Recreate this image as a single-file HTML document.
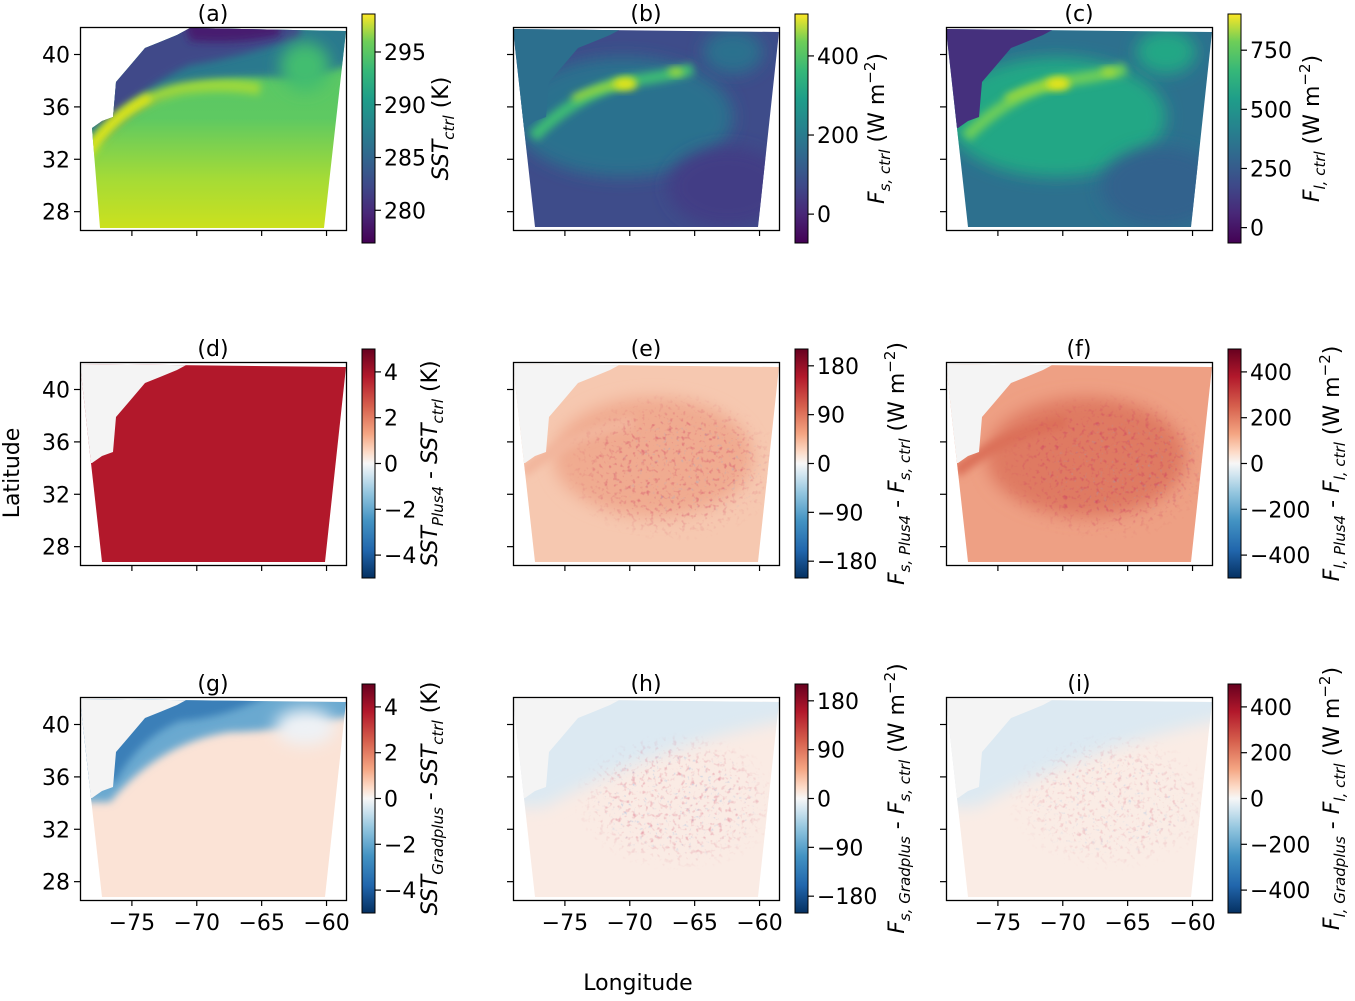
<!DOCTYPE html>
<html><head><meta charset="utf-8">
<style>
body{margin:0;background:#fff;font-family:"Liberation Sans","DejaVu Sans",sans-serif;}
svg text{font-family:"DejaVu Sans","Liberation Sans",sans-serif;fill:#000;}
</style></head>
<body>
<svg id="fig" width="1355" height="996" xmlns="http://www.w3.org/2000/svg">
<defs>
<linearGradient id="viridis" x1="0" y1="1" x2="0" y2="0">
<stop offset="0" stop-color="#440154"/><stop offset="0.13" stop-color="#482878"/><stop offset="0.25" stop-color="#3e4989"/>
<stop offset="0.38" stop-color="#31688e"/><stop offset="0.5" stop-color="#26828e"/><stop offset="0.63" stop-color="#1f9e89"/>
<stop offset="0.75" stop-color="#35b779"/><stop offset="0.88" stop-color="#6ece58"/><stop offset="1" stop-color="#fde725"/>
</linearGradient>
<linearGradient id="rdbu" x1="0" y1="1" x2="0" y2="0">
<stop offset="0" stop-color="#053061"/><stop offset="0.12" stop-color="#2166ac"/><stop offset="0.25" stop-color="#4393c3"/>
<stop offset="0.37" stop-color="#92c5de"/><stop offset="0.45" stop-color="#d1e5f0"/><stop offset="0.5" stop-color="#f7f7f7"/>
<stop offset="0.55" stop-color="#fddbc7"/><stop offset="0.63" stop-color="#f4a582"/><stop offset="0.75" stop-color="#d6604d"/>
<stop offset="0.88" stop-color="#b2182b"/><stop offset="1" stop-color="#67001f"/>
</linearGradient>
<linearGradient id="sstSouth" x1="0" y1="0" x2="0" y2="1">
<stop offset="0" stop-color="#56c566"/><stop offset="0.45" stop-color="#5ec962"/><stop offset="0.75" stop-color="#a5db36"/><stop offset="1" stop-color="#cde11d"/>
</linearGradient>
<radialGradient id="fade" cx="0.5" cy="0.5" r="0.5">
<stop offset="0" stop-color="#fff"/><stop offset="0.6" stop-color="#fff"/><stop offset="1" stop-color="#000"/>
</radialGradient>
<filter id="blur8" x="-50%" y="-50%" width="200%" height="200%"><feGaussianBlur stdDeviation="8"/></filter>
<filter id="blur4" x="-50%" y="-50%" width="200%" height="200%"><feGaussianBlur stdDeviation="4"/></filter>
<filter id="speck" x="0" y="0" width="1" height="1">
<feTurbulence type="fractalNoise" baseFrequency="0.22" numOctaves="2" seed="3"/>
<feColorMatrix type="matrix" values="0 0 0 0 0.62  0 0 0 0 0.05  0 0 0 0 0.12  0 0 0 2.4 -1.35"/>
</filter>
<filter id="speckb" x="0" y="0" width="1" height="1">
<feTurbulence type="fractalNoise" baseFrequency="0.25" numOctaves="2" seed="7"/>
<feColorMatrix type="matrix" values="0 0 0 0 0.2  0 0 0 0 0.4  0 0 0 0 0.75  0 0 0 2.6 -1.7"/>
</filter>
</defs>
</svg>
<script>
const NS='http://www.w3.org/2000/svg';
const svg=document.getElementById('fig');
const defs=svg.querySelector('defs');
function mk(tag,attrs,parent){const e=document.createElementNS(NS,tag);for(const k in attrs)e.setAttribute(k,attrs[k]);(parent||svg).appendChild(e);return e;}

// data arrays
const panelLetters=['(a)','(b)','(c)','(d)','(e)','(f)','(g)','(h)','(i)'];
const lonTicks=[-75,-70,-65,-60];
const latTicks=[40,36,32,28];
const cbarMin=[276.9,-73,-65,-5,-211,-500,-5,-211,-500];
const cbarMax=[298.6,506,903,5,211,500,5,211,500];
const cbarTicks=[[280,285,290,295],[0,200,400],[0,250,500,750],[-4,-2,0,2,4],[-180,-90,0,90,180],[-400,-200,0,200,400],[-4,-2,0,2,4],[-180,-90,0,90,180],[-400,-200,0,200,400]];
const cbarLabels=[
 [['SST','i'],['ctrl','s'],[' (K)','n']],
 [['F','i'],['s, ctrl','s'],[' (W m','n'],['−2','p'],[')','n']],
 [['F','i'],['l, ctrl','s'],[' (W m','n'],['−2','p'],[')','n']],
 [['SST','i'],['Plus4','s'],[' - ','n'],['SST','i'],['ctrl','s'],[' (K)','n']],
 [['F','i'],['s, Plus4','s'],[' - ','n'],['F','i'],['s, ctrl','s'],[' (W m','n'],['−2','p'],[')','n']],
 [['F','i'],['l, Plus4','s'],[' - ','n'],['F','i'],['l, ctrl','s'],[' (W m','n'],['−2','p'],[')','n']],
 [['SST','i'],['Gradplus','s'],[' - ','n'],['SST','i'],['ctrl','s'],[' (K)','n']],
 [['F','i'],['s, Gradplus','s'],[' - ','n'],['F','i'],['s, ctrl','s'],[' (W m','n'],['−2','p'],[')','n']],
 [['F','i'],['l, Gradplus','s'],[' - ','n'],['F','i'],['l, ctrl','s'],[' (W m','n'],['−2','p'],[')','n']]];

const colX=[80,513,946], rowY=[27,362,697], W=266, H=203;
const lonMin=-79.0, lonMax=-58.5, latTop=42.1, latBot=26.6;
const lonX=(lon,x0)=>x0+ (lon-lonMin)/(lonMax-lonMin)*W;
const latY=(lat,y0)=>y0+ (latTop-lat)/(latTop-latBot)*H;

const coast=[[110,1],[97,8],[80,15],[65,21],[48,41],[36,55],[33,90],[22,94],[12,101]];
function domainPts(full,x0,y0){
  if(full) return [[0,2],[266,5],[245,200],[22,200]].map(p=>[x0+p[0],y0+p[1]]);
  const pts=[[110,1],[266,4],[244,201],[20,201],[12,101]];
  return pts.concat(coast.slice().reverse().slice(1)).map(p=>[x0+p[0],y0+p[1]]);
}
const ps=a=>a.map(p=>p.join(',')).join(' ');

function speckle(parent,idx,x,y,w,h,filt,op){
  const m=mk('mask',{id:'m'+idx+filt,maskUnits:'userSpaceOnUse',x:x,y:y,width:w,height:h},defs);
  mk('rect',{x:x,y:y,width:w,height:h,fill:'url(#fade)'},m);
  mk('rect',{x:x,y:y,width:w,height:h,filter:'url(#'+filt+')',opacity:op,mask:'url(#m'+idx+filt+')'},parent);
}

for(let i=0;i<9;i++){
  const r=Math.floor(i/3), c=i%3, x0=colX[c], y0=rowY[r];
  const g=mk('g',{});
  
  
  const cid='clip'+i;
  const cp=mk('clipPath',{id:cid},g);
  mk('polygon',{points:ps(i===0?domainPts(false,x0,y0):domainPts(true,x0,y0))},cp);
  const f=mk('g',{'clip-path':'url(#'+cid+')'},g);
  
  
  const land=ps([[x0-5,y0-5],[x0+110,y0-5],...coast.map(p=>[x0+p[0],y0+p[1]]),[x0-5,y0+101]]);
  if(i===0){
    mk('rect',{x:x0,y:y0,width:W,height:H,fill:'url(#sstSouth)'},f);
    mk('path',{d:`M${x0-10} ${y0-20} L${x0+290} ${y0-20} L${x0+290} ${y0+30} Q${x0+230} ${y0+55} ${x0+190} ${y0+50} Q${x0+140} ${y0+50} ${x0+90} ${y0+65} Q${x0+50} ${y0+85} ${x0+20} ${y0+115} L${x0-10} ${y0+115}Z`,fill:'#2a798e',filter:'url(#blur4)'},f);
    mk('path',{d:`M${x0-10} ${y0-20} L${x0+220} ${y0-20} L${x0+220} ${y0+10} Q${x0+160} ${y0+30} ${x0+110} ${y0+38} Q${x0+70} ${y0+55} ${x0+30} ${y0+95} L${x0-10} ${y0+95}Z`,fill:'#3f4889',filter:'url(#blur4)'},f);
    mk('path',{d:`M${x0+100} ${y0-20} L${x0+200} ${y0-20} L${x0+200} ${y0+8} Q${x0+160} ${y0+18} ${x0+110} ${y0+14}Z`,fill:'#471e6f',filter:'url(#blur4)'},f);
    mk('path',{d:`M${x0+5} ${y0+130} Q${x0+40} ${y0+75} ${x0+100} ${y0+62} Q${x0+140} ${y0+55} ${x0+180} ${y0+62}`,stroke:'#9ed93a',fill:'none','stroke-width':12,filter:'url(#blur4)'},f);
    mk('path',{d:`M${x0+5} ${y0+130} Q${x0+30} ${y0+90} ${x0+70} ${y0+70}`,stroke:'#e6e419',fill:'none','stroke-width':8,filter:'url(#blur4)'},f);
    mk('ellipse',{cx:x0+225,cy:y0+40,rx:25,ry:25,fill:'#42bd70',filter:'url(#blur8)'},f);
  } else if(i===1||i===2){
    const cols=i===1?{base:'#3e4c8a',mid:'#2c718e',streak:'#3cbb75',yel:'#e3e418',land:'#2c6f8e',dark:'#433e85'}
                    :{base:'#2d708e',mid:'#22a785',streak:'#6ccd5a',yel:'#e8e419',land:'#45307d',dark:'#33628d'};
    mk('rect',{x:x0,y:y0,width:W,height:H,fill:cols.base},f);
    mk('ellipse',{cx:x0+110,cy:y0+90,rx:110,ry:60,fill:cols.mid,filter:'url(#blur8)'},f);
    mk('ellipse',{cx:x0+220,cy:y0+25,rx:30,ry:22,fill:cols.mid,filter:'url(#blur8)'},f);
    mk('ellipse',{cx:x0+215,cy:y0+160,rx:60,ry:40,fill:cols.dark,filter:'url(#blur8)'},f);
    mk('path',{d:`M${x0+20} ${y0+110} Q${x0+60} ${y0+70} ${x0+110} ${y0+55} Q${x0+150} ${y0+50} ${x0+180} ${y0+42}`,stroke:cols.streak,fill:'none','stroke-width':12,filter:'url(#blur4)'},f);
    mk('path',{d:`M${x0+60} ${y0+72} Q${x0+90} ${y0+58} ${x0+120} ${y0+55}`,stroke:'#a0da39',fill:'none','stroke-width':7,filter:'url(#blur4)'},f);
    mk('ellipse',{cx:x0+112,cy:y0+57,rx:12,ry:6,fill:cols.yel,filter:'url(#blur4)'},f);
    mk('ellipse',{cx:x0+163,cy:y0+45,rx:8,ry:4,fill:'#a8db34',filter:'url(#blur4)'},f);
    mk('polygon',{points:land,fill:cols.land},f);
  } else {
    const base=[null,null,null,'#b2182b','#f6c8b0','#eea084','#fbe3d6','#faebe4','#faece5'][i];
    mk('rect',{x:x0,y:y0,width:W,height:H,fill:base},f);
    if(i===4||i===5){
      mk('ellipse',{cx:x0+140,cy:y0+95,rx:100,ry:60,fill:i===4?'#f0ab90':'#df7a62',filter:'url(#blur8)'},f);
      mk('path',{d:`M${x0+10} ${y0+110} Q${x0+60} ${y0+70} ${x0+120} ${y0+60}`,stroke:i===4?'#f2b59c':'#db6f58',fill:'none','stroke-width':12,filter:'url(#blur4)'},f);
      speckle(f,i,x0+50,y0+30,220,150,'speck',i===4?0.7:0.8);
      speckle(f,i,x0+90,y0+50,180,110,'speckb',0.45);
    }
    if(i===6){
      mk('path',{d:`M${x0-10} ${y0-20} L${x0+290} ${y0-20} L${x0+290} ${y0+15} Q${x0+200} ${y0+35} ${x0+150} ${y0+35} Q${x0+80} ${y0+45} ${x0+30} ${y0+105} L${x0-10} ${y0+105}Z`,fill:'#6aa9d0',filter:'url(#blur4)'},f);
      mk('path',{d:`M${x0-10} ${y0-20} L${x0+220} ${y0-20} Q${x0+160} ${y0+20} ${x0+100} ${y0+24} Q${x0+60} ${y0+40} ${x0+35} ${y0+85} L${x0-10} ${y0+85}Z`,fill:'#3a7fb8',filter:'url(#blur4)'},f);
      mk('ellipse',{cx:x0+225,cy:y0+30,rx:30,ry:18,fill:'#eef2f6',filter:'url(#blur8)'},f);
    }
    if(i===7||i===8){
      mk('path',{d:`M${x0-10} ${y0-20} L${x0+290} ${y0-20} L${x0+290} ${y0+20} Q${x0+150} ${y0+45} ${x0+30} ${y0+110} L${x0-10} ${y0+110}Z`,fill:'#dce9f2',filter:'url(#blur8)'},f);
      speckle(f,i,x0+60,y0+35,210,140,'speck',i===7?0.5:0.35);
      speckle(f,i,x0+70,y0+45,190,120,'speckb',i===7?0.6:0.45);
    }
    mk('polygon',{points:land,fill:'#f4f4f4'},f);
  }
  const fr=mk('rect',{x:x0+0.5,y:y0+0.5,width:W,height:H,fill:'none',stroke:'#000','stroke-width':1.3},g);
  
  
  const t=mk('text',{x:x0+W/2,y:y0-6,'font-size':22,'text-anchor':'middle'},g);
  t.textContent=panelLetters[i];
  
  
  lonTicks.forEach(lon=>{
    const x=lonX(lon,x0);
    mk('line',{x1:x,x2:x,y1:y0+H,y2:y0+H+6,stroke:'#000','stroke-width':1.2},g);
    if(r===2){const tl=mk('text',{x:x,y:y0+H+30,'font-size':22,'text-anchor':'middle'},g);tl.textContent=(lon<0?'−':'')+Math.abs(lon);
      
      }
  });
  latTicks.forEach(lat=>{
    const y=latY(lat,y0);
    mk('line',{x1:x0-6,x2:x0,y1:y,y2:y,stroke:'#000','stroke-width':1.2},g);
    if(c===0){const tl=mk('text',{x:x0-10,y:y+8,'font-size':22,'text-anchor':'end'},g);tl.textContent=lat;
      
      }
  });
  const cx=x0+282, cy0=y0-13, ch=229, cw=13;
  const cb=mk('g',{},g);
  
  
  mk('rect',{x:cx,y:cy0,width:cw,height:ch,fill:i<3?'url(#viridis)':'url(#rdbu)',stroke:'#000','stroke-width':1},cb);
  cbarTicks[i].forEach(v=>{
    const y=cy0+ch-(v-cbarMin[i])/(cbarMax[i]-cbarMin[i])*ch;
    mk('line',{x1:cx+cw,x2:cx+cw+6,y1:y,y2:y,stroke:'#000','stroke-width':1.2},cb);
    const tl=mk('text',{x:cx+cw+9,y:y+8,'font-size':22},cb);
    tl.textContent=(v<0?'−':'')+Math.abs(v);
    
    
  });
  const offs=[[86,89,91],[75,109,111],[75,109,111]][r];
  const lt=mk('text',{transform:`translate(${cx+offs[c]},${cy0+ch/2}) rotate(-90)`,'font-size':22,'text-anchor':'middle'},cb);
  
  
  let prev='n';
  cbarLabels[i].forEach(([s,kind])=>{
    const ts=mk('tspan',{},lt);
    ts.textContent=s;
    let dy=0;
    if(prev==='s') dy-=6; if(prev==='p') dy+=9;
    if(kind==='s'){ts.setAttribute('font-size',15);ts.setAttribute('font-style','italic');dy+=6;}
    if(kind==='p'){ts.setAttribute('font-size',15);dy-=9;}
    if(kind==='i') ts.setAttribute('font-style','italic');
    if(dy) ts.setAttribute('dy',dy);
    prev=kind;
  });
}
const xl=mk('text',{x:638,y:990,'font-size':22,'text-anchor':'middle'});
xl.textContent='Longitude';


const yl=mk('text',{transform:'translate(19,473) rotate(-90)','font-size':22,'text-anchor':'middle'});
yl.textContent='Latitude';


</script>
</body></html>
